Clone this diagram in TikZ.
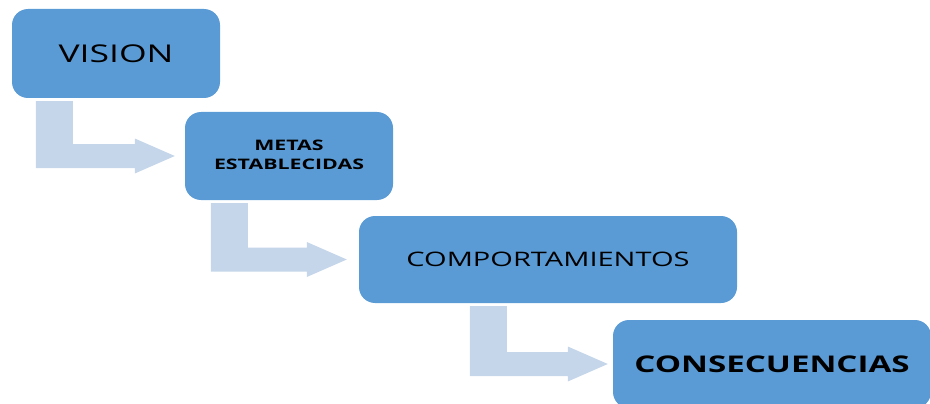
\documentclass[tikz,border=0pt]{standalone}
\usepackage{fontspec}
\setmainfont{Open Sans}
\usepackage{graphicx}
\usetikzlibrary{calc}

\definecolor{cajaazul}{RGB}{91,155,213}
\definecolor{flechaazul}{RGB}{197,213,234}

\newcommand{\ancho}[2][1.45]{\scalebox{#1}[1]{#2}}

% flecha en L: #1 origen, #2 destino, #3 desplazamiento, #4 hueco
\newcommand{\flechaL}[4]{%
  \fill[flecha] ($(#1.south west)+(#3,3)$) -- ++(37,0)
     |- ($(#2.west)+(-#4-40,-12)$) -- ++(0,-5.5) -- ($(#2.west)+(-#4,0)$)
     -- ($(#2.west)+(-#4-40,17.5)$) -- ++(0,-5.5)
     -| ($(#1.south west)+(#3,3)$) -- cycle;
}

\begin{document}
\begin{tikzpicture}[x=1pt,y=-1pt,
    caja/.style={rectangle, rounded corners=16pt, fill=cajaazul, inner sep=0pt,
      minimum height=88pt, text=black},
    flecha/.style={fill=flechaazul}]
  \useasboundingbox (0,0) rectangle (930,404);
  \clip (0,0) rectangle (930,404);

  \node[caja, minimum width=208pt, minimum height=89pt] (vision) at (116,53.5)
    {\fontsize{24.5}{28}\selectfont\ancho{VISION}};
  \node[caja, minimum width=208pt] (metas) at (289,156)
    {\raisebox{-2pt}{\fontsize{14.5}{19}\selectfont\bfseries\ancho[1.47]{\begin{tabular}{@{}c@{}}METAS\\ESTABLECIDAS\end{tabular}}}};
  \node[caja, minimum width=378pt, minimum height=87pt] (comport) at (548,259.5)
    {\fontsize{20}{23}\selectfont\ancho{COMPORTAMIENTOS}};
  \node[caja, minimum width=318pt] (consec) at (772,364)
    {\fontsize{23}{26}\selectfont\bfseries\ancho[1.44]{CONSECUENCIAS}};

  \flechaL{vision}{metas}{24}{10}
  \flechaL{metas}{comport}{26}{12}
  \flechaL{comport}{consec}{111}{5}
\end{tikzpicture}
\end{document}
